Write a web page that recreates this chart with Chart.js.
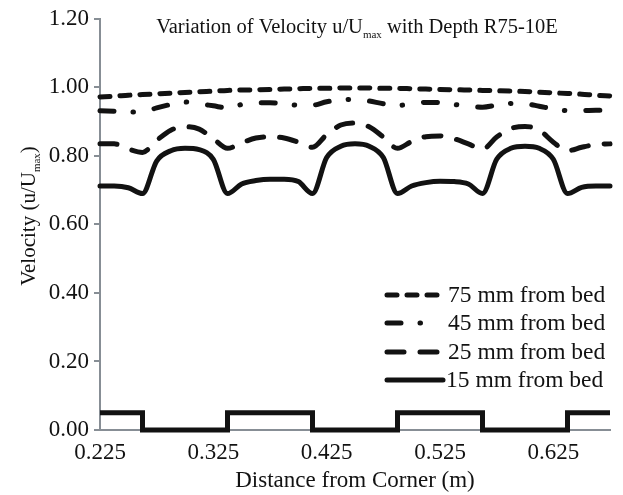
<!DOCTYPE html>
<html>
<head>
<meta charset="utf-8">
<script src="https://cdn.jsdelivr.net/npm/chart.js@4.4.0/dist/chart.umd.min.js"></script>
<style>
  html, body { margin: 0; padding: 0; background: #fff; }
</style>
</head>
<body>
<canvas id="velocityChart" width="623" height="495"></canvas>
<script>
// Distance from corner (m)
const distance = [0.225, 0.2375, 0.25, 0.2625, 0.275, 0.2875, 0.30, 0.3125, 0.325, 0.3375,
  0.35, 0.3625, 0.375, 0.3875, 0.40, 0.4125, 0.425, 0.4375, 0.45, 0.4625,
  0.475, 0.4875, 0.50, 0.5125, 0.525, 0.5375, 0.55, 0.5625, 0.575, 0.5875,
  0.60, 0.6125, 0.625, 0.6375, 0.65, 0.6625, 0.675];

// u/Umax at each depth
const vel75 = [0.972, 0.974, 0.977, 0.979, 0.981, 0.983, 0.985, 0.987, 0.989, 0.991,
  0.992, 0.993, 0.994, 0.995, 0.996, 0.997, 0.997, 0.998, 0.998, 0.998,
  0.997, 0.997, 0.996, 0.995, 0.994, 0.993, 0.992, 0.991, 0.990, 0.989,
  0.988, 0.986, 0.984, 0.982, 0.980, 0.977, 0.975];
const vel45 = [0.932, 0.930, 0.928, 0.928, 0.940, 0.950, 0.957, 0.952, 0.946, 0.940,
  0.950, 0.955, 0.955, 0.952, 0.948, 0.948, 0.958, 0.963, 0.965, 0.960,
  0.952, 0.947, 0.952, 0.956, 0.955, 0.950, 0.945, 0.942, 0.948, 0.953,
  0.952, 0.945, 0.937, 0.932, 0.932, 0.933, 0.933];
const vel25 = [0.835, 0.835, 0.820, 0.810, 0.845, 0.875, 0.885, 0.878, 0.850, 0.822,
  0.838, 0.852, 0.856, 0.852, 0.840, 0.825, 0.862, 0.890, 0.896, 0.885,
  0.855, 0.822, 0.842, 0.856, 0.858, 0.850, 0.835, 0.820, 0.855, 0.880,
  0.886, 0.875, 0.840, 0.815, 0.825, 0.833, 0.835];
const vel15 = [0.712, 0.712, 0.707, 0.690, 0.785, 0.815, 0.822, 0.818, 0.790, 0.690,
  0.718, 0.728, 0.732, 0.732, 0.725, 0.690, 0.795, 0.828, 0.835, 0.828,
  0.795, 0.690, 0.712, 0.722, 0.726, 0.725, 0.718, 0.690, 0.790, 0.822,
  0.828, 0.822, 0.790, 0.690, 0.708, 0.712, 0.712];

// bed roughness profile (ribs)
const ribX = [0.225, 0.2625, 0.3375, 0.4125, 0.4875, 0.5625, 0.6375, 0.675];
const ribY = [0.05, 0, 0.05, 0, 0.05, 0, 0.05, 0.05];

const xTicks = [0.225, 0.325, 0.425, 0.525, 0.625];
const seriesNames = ['75 mm from bed', '45 mm from bed', '25 mm from bed', '15 mm from bed'];

const SERIF = '"Liberation Serif", "Times New Roman", serif';
const INK = '#121212';
const AXIS = '#878e95';

const pts = (xs, ys) => xs.map((x, i) => ({ x: x, y: ys[i] }));

function lineSet(label, ys, dash) {
  return {
    label: label,
    data: pts(distance, ys),
    borderColor: INK,
    borderWidth: 5,
    borderDash: dash,
    borderCapStyle: 'round',
    borderJoinStyle: 'round',
    pointRadius: 0,
    cubicInterpolationMode: 'monotone',
    fill: false,
    clip: false
  };
}

// text with a "max" subscript, centred on (0,0) of the current transform
function richText(ctx, parts, size, subSize) {
  let total = 0;
  parts.forEach(p => {
    ctx.font = (p.sub ? subSize : size) + 'px ' + SERIF;
    p.w = ctx.measureText(p.t).width;
    total += p.w;
  });
  let x = -total / 2;
  ctx.textAlign = 'left';
  ctx.textBaseline = 'alphabetic';
  parts.forEach(p => {
    ctx.font = (p.sub ? subSize : size) + 'px ' + SERIF;
    ctx.fillText(p.t, x, p.sub ? size * 0.22 : 0);
    x += p.w;
  });
}

const extras = {
  id: 'extras',
  afterDraw(chart) {
    const ctx = chart.ctx;
    ctx.save();
    ctx.fillStyle = INK;

    // title inside the plot
    ctx.save();
    ctx.translate(357, 33);
    richText(ctx, [{ t: 'Variation of Velocity u/U' }, { t: 'max', sub: true }, { t: ' with Depth R75-10E' }], 20.5, 11);
    ctx.restore();

    // y axis title
    ctx.save();
    ctx.translate(35, 216);
    ctx.rotate(-Math.PI / 2);
    richText(ctx, [{ t: 'Velocity (u/U' }, { t: 'max', sub: true }, { t: ')' }], 21, 11);
    ctx.restore();

    // legend
    const rows = [295, 323, 352, 380];
    const sampleLen = [55, 50, 55, 56];
    chart.data.datasets.slice(0, 4).forEach((ds, i) => {
      const y = rows[i];
      ctx.save();
      ctx.strokeStyle = INK;
      ctx.lineWidth = 5;
      ctx.lineCap = 'round';
      ctx.setLineDash(ds.borderDash || []);
      ctx.beginPath();
      ctx.moveTo(387, y);
      ctx.lineTo(387 + sampleLen[i], y);
      ctx.stroke();
      ctx.restore();
      ctx.font = '23.5px ' + SERIF;
      ctx.textAlign = 'left';
      ctx.textBaseline = 'middle';
      ctx.fillText(ds.label, i === 3 ? 446 : 448, y + 1);
    });
    ctx.restore();
  }
};

new Chart(document.getElementById('velocityChart'), {
  type: 'line',
  data: {
    datasets: [
      lineSet(seriesNames[0], vel75, [10, 10]),
      lineSet(seriesNames[1], vel45, [14, 19, 0.5, 21]),
      lineSet(seriesNames[2], vel25, [17, 16]),
      lineSet(seriesNames[3], vel15, []),
      {
        label: 'bed',
        data: pts(ribX, ribY),
        stepped: true,
        borderColor: INK,
        borderWidth: 5,
        borderJoinStyle: 'miter',
        pointRadius: 0,
        fill: false,
        clip: false
      }
    ]
  },
  options: {
    responsive: false,
    animation: false,
    layout: { padding: { top: 16, right: 13, left: 0, bottom: 0 } },
    plugins: { legend: { display: false }, tooltip: { enabled: false } },
    scales: {
      x: {
        type: 'linear',
        min: 0.225,
        max: 0.675,
        afterBuildTicks: s => { s.ticks = xTicks.map(v => ({ value: v })); },
        afterFit: s => { s.height = 65; },
        grid: { display: false, drawTicks: false },
        border: { display: true, color: AXIS, width: 2 },
        ticks: {
          padding: 9,
          color: INK,
          maxRotation: 0,
          autoSkip: false,
          font: { family: SERIF, size: 23 },
          callback: v => Number(v).toFixed(3)
        },
        title: {
          display: true,
          text: 'Distance from Corner (m)',
          color: INK,
          font: { family: SERIF, size: 23 },
          padding: { top: 0, bottom: 0 }
        }
      },
      y: {
        min: 0,
        max: 1.2,
        afterFit: s => { s.width = 100; },
        grid: { drawOnChartArea: false, drawTicks: true, tickLength: 6, color: AXIS, lineWidth: 2 },
        border: { display: true, color: AXIS, width: 2 },
        ticks: {
          stepSize: 0.2,
          padding: 5,
          color: INK,
          font: { family: SERIF, size: 23 },
          callback: v => Number(v).toFixed(2)
        }
      }
    }
  },
  plugins: [extras]
});
</script>
</body>
</html>
